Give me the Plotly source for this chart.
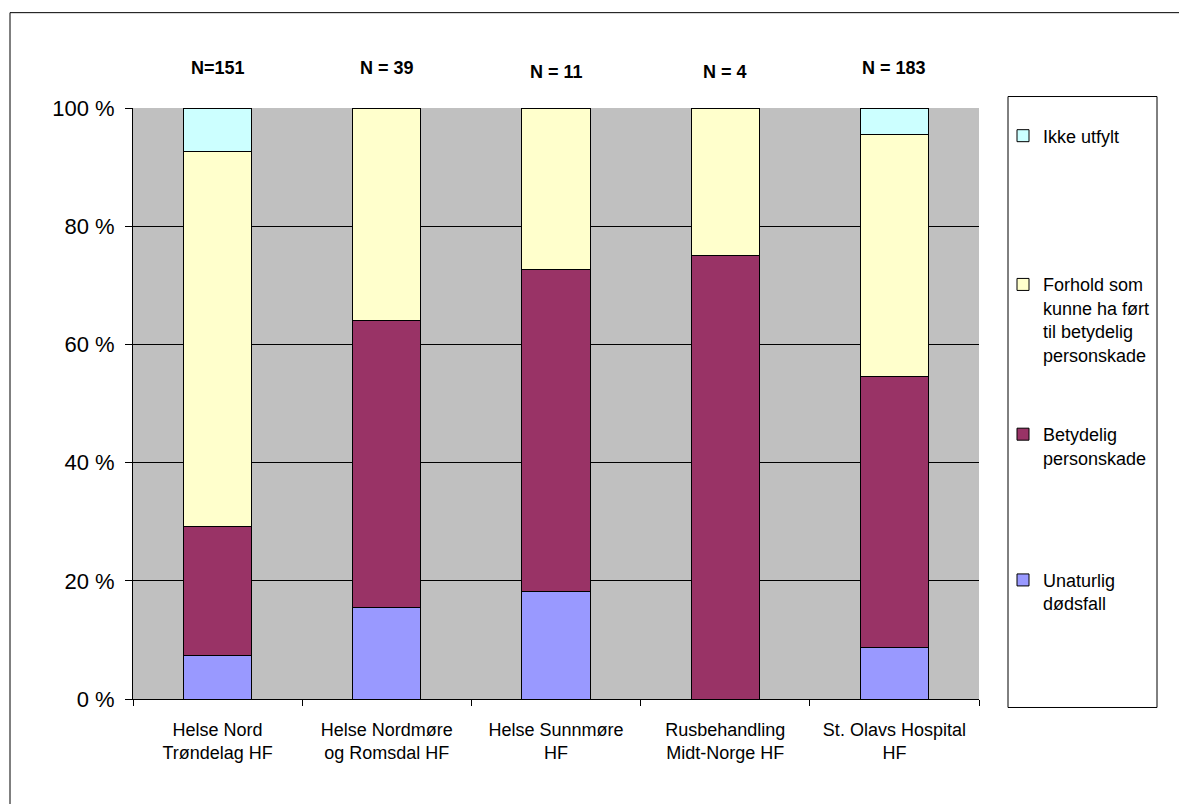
import plotly.graph_objects as go

# ---- data ----
categories = ["Helse Nord<br>Trøndelag HF", "Helse Nordmøre<br>og Romsdal HF",
              "Helse Sunnmøre<br>HF", "Rusbehandling<br>Midt-Norge HF",
              "St. Olavs Hospital<br>HF"]
n_labels = ["N=151", "N = 39", "N = 11", "N = 4", "N = 183"]
unaturlig = [7.3, 15.4, 18.2, 0.0, 8.7]
betydelig = [21.9, 48.7, 54.5, 75.0, 45.9]
forhold = [63.5, 35.9, 27.3, 25.0, 41.0]
ikke_utfylt = [7.3, 0.0, 0.0, 0.0, 4.4]
series_names = ["Unaturlig<br>dødsfall", "Betydelig<br>personskade",
                "Forhold som<br>kunne ha ført<br>til betydelig<br>personskade",
                "Ikke utfylt"]
y_ticks = [0, 20, 40, 60, 80, 100]
y_tick_text = ["0 %", "20 %", "40 %", "60 %", "80 %", "100 %"]

# ---- layout geometry (pixels) ----
W, H = 1179, 804
L, R, T, B = 133, 979, 107.5, 699.5
PW, PH = R - L, B - T


def px_x(p):
    return (p - L) / PW


def px_y(p):
    return (B - p) / PH


FONT = "Liberation Sans, Arial, sans-serif"
colors = ["#9999FF", "#993366", "#FFFFCC", "#CCFFFF"]
series_values = [unaturlig, betydelig, forhold, ikke_utfylt]
legend_ids = ["legend4", "legend3", "legend2", "legend"]
legend_first_line_px = [576, 430, 280, 131]

fig = go.Figure()
for name, vals, col, lid in zip(series_names, series_values, colors, legend_ids):
    fig.add_trace(go.Bar(
        x=categories, y=vals, name=name, legend=lid,
        marker=dict(color=col, line=dict(color="black", width=1)),
    ))

legend_common = dict(
    xanchor="left", yanchor="top", bgcolor="rgba(0,0,0,0)",
    borderwidth=0, valign="top",
    font=dict(family=FONT, size=18, color="black"),
)
legends = {}
for lid, cy in zip(legend_ids, legend_first_line_px):
    legends[lid] = dict(legend_common, x=px_x(1003), y=px_y(cy - 14))

annotations = []
n_dy = [0, 0, 4, 4, 0]
for cat, lab, dy in zip(categories, n_labels, n_dy):
    annotations.append(dict(
        x=cat, y=px_y(67 + dy), xref="x", yref="paper", text="<b>%s</b>" % lab,
        showarrow=False, font=dict(family=FONT, size=18, color="black"),
        xanchor="center", yanchor="middle",
    ))

shapes = [
    # outer chart frame
    dict(type="rect", xref="paper", yref="paper",
         x0=px_x(10), x1=px_x(W + 20), y0=px_y(H + 20), y1=px_y(12),
         line=dict(color="black", width=1), fillcolor="rgba(0,0,0,0)", layer="below"),
    # legend box
    dict(type="rect", xref="paper", yref="paper",
         x0=px_x(1008), x1=px_x(1157), y0=px_y(708), y1=px_y(96),
         line=dict(color="black", width=1), fillcolor="white", layer="below"),
]

fig.update_layout(
    width=W, height=H,
    margin=dict(l=L, r=W - R, t=T, b=H - B, pad=0),
    barmode="stack", bargap=0.596,
    paper_bgcolor="white", plot_bgcolor="#C0C0C0",
    font=dict(family=FONT, size=18, color="black"),
    showlegend=True,
    annotations=annotations, shapes=shapes,
    **legends,
)
fig.update_xaxes(
    showline=True, linecolor="black", linewidth=1,
    ticks="outside", tickson="boundaries", ticklen=6, tickcolor="black",
    showgrid=False, tickfont=dict(family=FONT, size=18, color="black"),
    ticklabelstandoff=14,
)
fig.update_yaxes(
    range=[0, 100], tickvals=y_ticks, ticktext=y_tick_text,
    showline=True, linecolor="black", linewidth=1,
    ticks="outside", ticklen=7, tickcolor="black",
    showgrid=True, gridcolor="black", gridwidth=1, zeroline=False,
    tickfont=dict(family=FONT, size=22, color="black"), ticklabelstandoff=6,
)

fig.write_html("out.html")
